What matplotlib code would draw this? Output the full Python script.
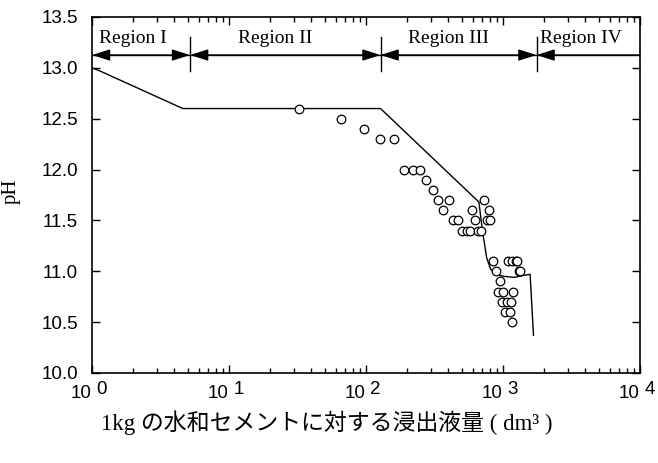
"""浸出液量と pH の関係 (Region I-IV) を片対数で描く。"""

import matplotlib
matplotlib.use("Agg")
import matplotlib.pyplot as plt
from matplotlib.ticker import LogLocator, NullLocator, NullFormatter, FixedLocator

# 測定値 (浸出液量 dm3/kg, pH)
meas_vol = [32.6, 65.4, 96.4, 125.6, 160.7,
            190, 220, 250, 274, 310,
            335, 404, 366, 431, 469,
            505, 549, 573, 657, 695,
            590, 726, 621, 791, 761, 804,
            846, 885, 958, 920, 1000, 1191,
            989, 1065, 1140, 1036, 1120, 1170,
            1096, 1159, 1239, 1275, 1320, 1333]
meas_ph = [12.6, 12.5, 12.4, 12.3, 12.3,
           12.0, 12.0, 12.0, 11.9, 11.8,
           11.7, 11.7, 11.6, 11.5, 11.5,
           11.4, 11.4, 11.4, 11.4, 11.4,
           11.6, 11.7, 11.5, 11.6, 11.5, 11.5,
           11.1, 11.0, 10.9, 10.8, 10.8, 10.8,
           10.7, 10.7, 10.7, 10.6, 10.6, 10.5,
           11.1, 11.1, 11.1, 11.1, 11.0, 11.0]

# 計算値
calc_vol = [1.0, 1.14, 4.6, 127.7, 668, 690, 719, 761, 813, 885,
            1018, 1205, 1426, 1578, 1670]
calc_ph = [13.0, 12.97, 12.6, 12.6, 11.68, 11.52, 11.34, 11.13, 11.02, 10.97,
           10.95, 10.94, 10.96, 10.97, 10.37]

# 領域の境界と名称
region_edges = [1.0, 5.2, 127.7, 1757, 1e4]
region_names = ["Region I", "Region II", "Region III", "Region IV"]
region_label_x = [2.0, 21.8, 401, 3700]

decades = [0, 1, 2, 3, 4]
ph_ticks = [10.0, 10.5, 11.0, 11.5, 12.0, 12.5, 13.0, 13.5]

SERIF = ["Liberation Serif", "DejaVu Serif"]
SANS = ["Liberation Sans", "DejaVu Sans"]

fig = plt.figure(figsize=(6.58, 4.63), dpi=100)
ax = fig.add_axes([0.1398, 0.1944, 0.8328, 0.7689])

ax.plot(calc_vol, calc_ph, color="black", lw=1.0, zorder=3)
ax.plot(meas_vol, meas_ph, ls="none", marker="o", ms=6.2, mfc="white",
        mec="black", mew=0.9, zorder=4)

ax.set_xscale("log")
ax.set_xlim(1, 1e4)
ax.set_ylim(10.0, 13.5)

# 領域を示す矢印
arrow_y = 13.126
ax.plot([1, 1e4], [arrow_y, arrow_y], color="black", lw=1.0, zorder=2)
for i, name in enumerate(region_names):
    lo, hi = region_edges[i], region_edges[i + 1]
    style = "<|-|>" if i < len(region_names) - 1 else "<|-"
    ax.annotate("", xy=(hi, arrow_y), xytext=(lo, arrow_y),
                arrowprops=dict(arrowstyle=style + ",head_length=1.1,head_width=0.35",
                                color="black", lw=1.0, shrinkA=0, shrinkB=0))
    ax.text(region_label_x[i], 13.29, name, ha="center", va="center",
            fontsize=14, family=SERIF)
for edge in region_edges[1:-1]:
    ax.plot([edge, edge], [12.97, 13.30], color="black", lw=1.0)

# 目盛り
ax.xaxis.set_major_locator(LogLocator(base=10, numticks=10))
ax.xaxis.set_minor_locator(LogLocator(base=10, subs=range(2, 10), numticks=20))
ax.xaxis.set_major_formatter(NullFormatter())
ax.xaxis.set_minor_formatter(NullFormatter())
ax.yaxis.set_major_locator(FixedLocator(ph_ticks))
ax.yaxis.set_minor_locator(NullLocator())
ax.set_yticklabels([f"{v:.1f}" for v in ph_ticks], family=SANS, fontsize=13.5)
ax.tick_params(which="both", direction="in", top=True, right=True, width=1.0)
ax.tick_params(which="major", length=6, pad=10)
ax.tick_params(which="minor", length=3.5)
for s in ax.spines.values():
    s.set_linewidth(1.2)

for k in decades:
    ax.annotate("10", xy=(10 ** k, 0), xycoords=("data", "axes fraction"),
                xytext=(-0.5, -9), textcoords="offset points",
                ha="right", va="top", fontsize=13.5, family=SANS)
    ax.annotate(str(k), xy=(10 ** k, 0), xycoords=("data", "axes fraction"),
                xytext=(3, -5.5), textcoords="offset points",
                ha="left", va="top", fontsize=13.5, family=SANS)

ax.set_ylabel("pH", family=SERIF, fontsize=15)
ax.yaxis.set_label_coords(-0.13, 0.51)

fig.text(0.496, 0.088, "1kg の水和セメントに対する浸出液量 ( dm³ )",
         ha="center", va="center", fontsize=16.5,
         family=["Liberation Serif", "Noto Sans CJK JP"])

fig.savefig("out.png", dpi=100)
